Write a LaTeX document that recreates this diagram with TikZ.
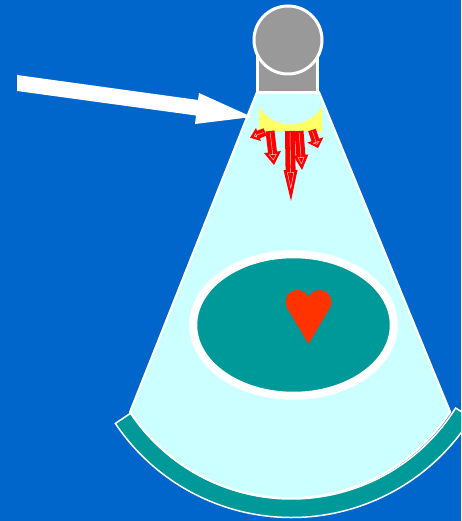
\documentclass[tikz,border=0pt]{standalone}
\usetikzlibrary{calc}
\definecolor{bgblue}{HTML}{0066CC}
\definecolor{conecyan}{HTML}{CCFFFF}
\definecolor{bandteal}{HTML}{009999}
\definecolor{probegray}{HTML}{999999}
\definecolor{padyellow}{HTML}{FFFF66}
\definecolor{heartred}{HTML}{FF3300}
\definecolor{arrowred}{HTML}{FF0000}
\tikzset{
  beam/.style={fill=conecyan, draw=white, line width=2pt, line join=round},
  band/.style={fill=bandteal, draw=white, line width=1.5pt, line join=miter},
  probe/.style={fill=probegray, draw=white, line width=3pt},
  organ/.style={fill=bandteal, draw=white, line width=8pt},
  % red block arrow along +x with a thin light core:
  % #1 length, #2 head length, #3 head half-width, #4 shaft half-width
  pics/hollowarrow/.style n args={4}{code={
    \fill[arrowred] (0,-#4) -- ({#1-#2},-#4) -- ({#1-#2},-#3) -- (#1,0)
      -- ({#1-#2},#3) -- ({#1-#2},#4) -- (0,#4) -- cycle;
    \draw[white!85!arrowred, line width=0.45pt, line join=miter]
      (1.5,0) -- ({#1-#2+2.5},0) -- ({#1-#2+2.5},{-(#3*(#2-2.5)/#2-3.2)})
      -- ({#1-2.8/sin(atan(#3/#2))},0) -- ({#1-#2+2.5},{#3*(#2-2.5)/#2-3.2})
      -- ({#1-#2+2.5},0);
  }}
}
\begin{document}
\begin{tikzpicture}[x=1pt,y=-1pt]
\useasboundingbox (0,0) rectangle (461,521);
\fill[bgblue] (0,0) rectangle (461,521);

% curved transducer band under the beam
\begin{scope}
  \clip (0,0) rectangle (461,521);
  \coordinate (bc) at (291.5,305.5);
  \draw[band] ($(bc)+(146.2:193.5)$) arc[start angle=146.2, end angle=32, radius=193.5]
    -- ($(bc)+(32:212)$) arc[start angle=32, end angle=146.2, radius=212] -- cycle;
\end{scope}

% ultrasound beam (sector)
\draw[beam] (257,92) -- (130,412) arc[start angle=146.5, end angle=33.5, radius=192]
  -- (319,92) -- cycle;

% probe body and head
\draw[probe] (257,45) rectangle (317.5,92.5);
\draw[probe] (288,40) circle[radius=34];

% yellow coupling pad
\fill[padyellow] (259,132) -- (322,132) -- (322,107)
  arc[start angle=31.8, end angle=148.2, radius=37] -- cycle;

% red emission arrows
\pic[rotate=-159] at (265,132) {hollowarrow={16}{9}{7}{4}};
\pic[rotate=-83.3] at (270,131) {hollowarrow={34.2}{13}{8.5}{4.5}};
\pic[rotate=-89.2] at (290,131) {hollowarrow={70}{31}{7}{5}};
\pic[rotate=-85.6] at (299,131) {hollowarrow={39.1}{15}{7.5}{4.5}};
\pic[rotate=-71.6] at (312,130) {hollowarrow={19}{8.5}{8.5}{4}};

% organ with heart
\draw[organ] (293.5,325) ellipse[x radius=100.25, y radius=70.75];
\fill[heartred] (308.5,344) -- (287.2,308.1)
  arc[start angle=149.3, end angle=336.4, radius=12]
  arc[start angle=203.6, end angle=390.7, radius=12] -- cycle;

% large white pointer arrow
\fill[white] (17,75) -- (198,100) -- (199,93) -- (252,117) -- (195,124)
  -- (196,115.5) -- (17,91) -- cycle;
\end{tikzpicture}
\end{document}
